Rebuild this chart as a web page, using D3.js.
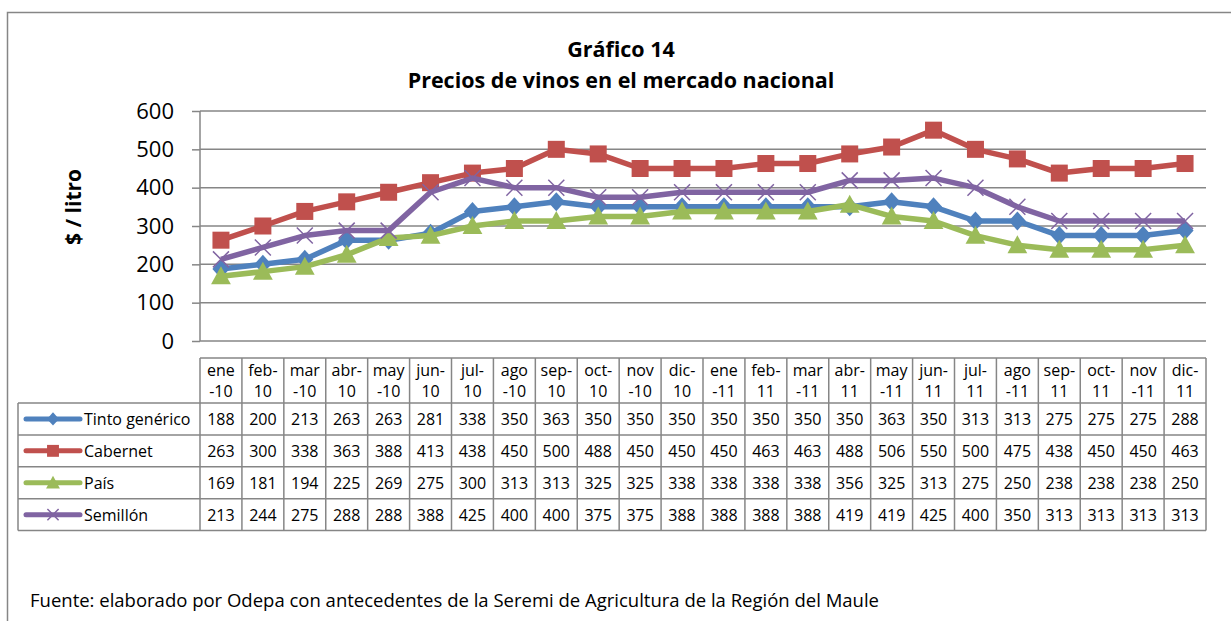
<!DOCTYPE html>
<html>
<head>
<meta charset="utf-8">
<script src="https://d3js.org/d3.v7.min.js"></script>
<style>
body { margin: 0; background: #fff; }
text { font-family: "Open Sans", sans-serif; fill: #000; }
</style>
</head>
<body>
<div id="chart"></div>
<script>
// data
var months = ["ene-10","feb-10","mar-10","abr-10","may-10","jun-10","jul-10","ago-10","sep-10","oct-10","nov-10","dic-10",
              "ene-11","feb-11","mar-11","abr-11","may-11","jun-11","jul-11","ago-11","sep-11","oct-11","nov-11","dic-11"];
// header labels as they wrap in the table
var monthLabels = [["ene","-10"],["feb-","10"],["mar","-10"],["abr-","10"],["may","-10"],["jun-","10"],["jul-","10"],["ago","-10"],
                   ["sep-","10"],["oct-","10"],["nov","-10"],["dic-","10"],["ene","-11"],["feb-","11"],["mar","-11"],["abr-","11"],
                   ["may","-11"],["jun-","11"],["jul-","11"],["ago","-11"],["sep-","11"],["oct-","11"],["nov","-11"],["dic-","11"]];
var tinto    = [188,200,213,263,263,281,338,350,363,350,350,350,350,350,350,350,363,350,313,313,275,275,275,288];
var cabernet = [263,300,338,363,388,413,438,450,500,488,450,450,450,463,463,488,506,550,500,475,438,450,450,463];
var pais     = [169,181,194,225,269,275,300,313,313,325,325,338,338,338,338,356,325,313,275,250,238,238,238,250];
var semillon = [213,244,275,288,288,388,425,400,400,375,375,388,388,388,388,419,419,425,400,350,313,313,313,313];
var yTicks = [0,100,200,300,400,500,600];

var series = [
  {name:"Tinto genérico", values:tinto, color:"#4F81BD", marker:"diamond"},
  {name:"Cabernet", values:cabernet, color:"#C0504D", marker:"square"},
  {name:"País", values:pais, color:"#9BBB59", marker:"triangle"},
  {name:"Semillón", values:semillon, color:"#8064A2", marker:"x"}
];

const w = 1231, h = 621;
const pLeft = 200, pRight = 1206, pTop = 111, pBottom = 341;
const gridColor = "#868686";

const svg = d3.select("#chart").append("svg").attr("width", w).attr("height", h);

// outer frame (top + left visible)
svg.append("path").attr("d", "M7.5," + h + "V12.5H" + w)
   .attr("fill","none").attr("stroke", gridColor).attr("stroke-width", 1.5);

const x = d3.scaleBand().domain(months).range([pLeft, pRight]);
const y = d3.scaleLinear().domain([0, 600]).range([pBottom, pTop]);

// title
svg.append("text").attr("x", 621).attr("y", 57).attr("text-anchor","middle")
   .attr("font-weight","bold").attr("font-size", 21.5).text("Gráfico 14");
svg.append("text").attr("x", 621).attr("y", 88).attr("text-anchor","middle")
   .attr("font-weight","bold").attr("font-size", 21.5).text("Precios de vinos en el mercado nacional");

// y axis with gridlines
const yAxis = d3.axisLeft(y).tickValues(yTicks).tickSize(8).tickPadding(18);
const gy = svg.append("g").attr("transform", "translate(" + pLeft + ",0)").call(yAxis);
gy.select(".domain").remove();
gy.selectAll(".tick line").attr("stroke", gridColor).attr("stroke-width", 1.5);
gy.selectAll(".tick text").attr("font-size", 22).attr("font-family", "'Open Sans', sans-serif").attr("fill","#000");
svg.append("g").selectAll("line").data(yTicks).enter().append("line")
   .attr("x1", pLeft).attr("x2", pRight)
   .attr("y1", d => y(d)).attr("y2", d => y(d))
   .attr("stroke", gridColor).attr("stroke-width", 1.5);
svg.append("line").attr("x1", pLeft).attr("x2", pLeft).attr("y1", pTop).attr("y2", pBottom)
   .attr("stroke", gridColor).attr("stroke-width", 1.5);

svg.append("text").attr("transform", "translate(81,207) rotate(-90)")
   .attr("text-anchor","middle").attr("font-weight","bold").attr("font-size", 21).text("$ / litro");

// markers
function drawMarker(g, type, color, cx, cy, s) {
  if (type === "diamond") {
    g.append("path").attr("d", "M"+cx+","+(cy - s/2)+"L"+(cx + s*0.45)+","+cy+"L"+cx+","+(cy + s/2)+"L"+(cx - s*0.45)+","+cy+"Z").attr("fill", color);
  } else if (type === "square") {
    g.append("rect").attr("x", cx - s/2).attr("y", cy - s/2).attr("width", s).attr("height", s).attr("fill", color);
  } else if (type === "triangle") {
    g.append("path").attr("d", "M"+cx+","+(cy - s*0.55)+"L"+(cx + s*0.55)+","+(cy + s*0.45)+"L"+(cx - s*0.55)+","+(cy + s*0.45)+"Z").attr("fill", color);
  } else {
    const r = s/2;
    g.append("path").attr("d", "M"+(cx-r)+","+(cy-r)+"L"+(cx+r)+","+(cy+r)+"M"+(cx-r)+","+(cy+r)+"L"+(cx+r)+","+(cy-r))
     .attr("stroke", color).attr("stroke-width", 1.5).attr("fill","none");
  }
}
const markerSize = {diamond:19, square:17, triangle:18, x:16};

const line = d3.line().x((d,i) => x(months[i]) + x.bandwidth()/2).y(d => y(d));
series.forEach(function(s) {
  const g = svg.append("g");
  g.append("path").datum(s.values).attr("d", line).attr("fill","none")
   .attr("stroke", s.color).attr("stroke-width", 5.5).attr("stroke-linejoin","round");
  s.values.forEach(function(v, i) {
    drawMarker(g, s.marker, s.color, x(months[i]) + x.bandwidth()/2, y(v), markerSize[s.marker]);
  });
});

// data table
const tableTop = 358, headH = 45, rowH = 31.9, legLeft = 18;
const tbl = svg.append("g");
const rowTop = i => tableTop + headH + i*rowH;
const tableBottom = rowTop(series.length);
const tblStroke = t => t.attr("stroke", gridColor).attr("stroke-width", 1.5);

// horizontal lines
tblStroke(tbl.append("line").attr("x1", pLeft).attr("x2", pRight).attr("y1", tableTop).attr("y2", tableTop));
for (let i = 0; i <= series.length; i++) {
  tblStroke(tbl.append("line").attr("x1", legLeft).attr("x2", pRight).attr("y1", rowTop(i)).attr("y2", rowTop(i)));
}
// vertical lines
tblStroke(tbl.append("line").attr("x1", legLeft).attr("x2", legLeft).attr("y1", rowTop(0)).attr("y2", tableBottom));
months.concat(["end"]).forEach(function(m, i) {
  const xx = i < months.length ? x(m) : pRight;
  tblStroke(tbl.append("line").attr("x1", xx).attr("x2", xx).attr("y1", tableTop).attr("y2", tableBottom));
});

// header labels
months.forEach(function(m, i) {
  const t = tbl.append("text").attr("x", x(m) + x.bandwidth()/2).attr("text-anchor","middle").attr("font-size", 16);
  t.append("tspan").attr("x", x(m) + x.bandwidth()/2).attr("y", tableTop + 18).text(monthLabels[i][0]);
  t.append("tspan").attr("x", x(m) + x.bandwidth()/2).attr("y", tableTop + 39).text(monthLabels[i][1]);
});

// rows
series.forEach(function(s, r) {
  const cy = rowTop(r) + rowH/2;
  tbl.append("line").attr("x1", 26).attr("x2", 80).attr("y1", cy).attr("y2", cy)
     .attr("stroke", s.color).attr("stroke-width", 5).attr("stroke-linecap","round");
  drawMarker(tbl, s.marker, s.color, 53, cy, markerSize[s.marker] * 0.7);
  tbl.append("text").attr("x", 84).attr("y", cy + 6).attr("font-size", 16).text(s.name);
  s.values.forEach(function(v, i) {
    tbl.append("text").attr("x", x(months[i]) + x.bandwidth()/2).attr("y", cy + 6)
       .attr("text-anchor","middle").attr("font-size", 16).text(v);
  });
});

// source
svg.append("text").attr("x", 30).attr("y", 607).attr("font-size", 18.5)
   .text("Fuente: elaborado por Odepa con antecedentes de la Seremi de Agricultura de la Región del Maule");
</script>
</body>
</html>
